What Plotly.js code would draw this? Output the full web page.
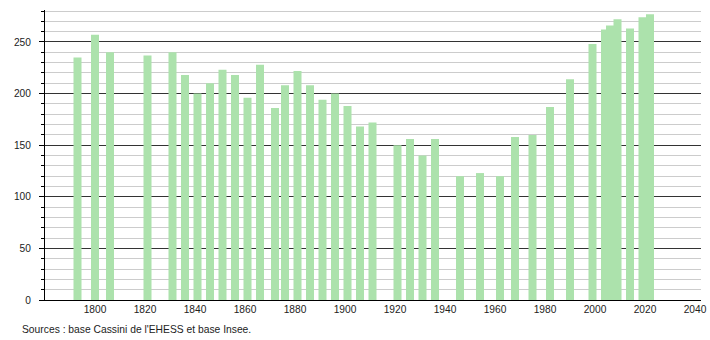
<!DOCTYPE html>
<html>
<head>
<meta charset="utf-8">
<script src="https://cdn.plot.ly/plotly-3.0.1.min.js"></script>
<style>
html, body { margin: 0; padding: 0; background: #fff; }
#chart { width: 710px; height: 340px; }
</style>
</head>
<body>
<div id="chart"></div>
<script>
const years = [1793, 1800, 1806, 1821, 1831, 1836, 1841, 1846, 1851, 1856, 1861, 1866, 1872, 1876, 1881, 1886, 1891, 1896, 1901, 1906, 1911, 1921, 1926, 1931, 1936, 1946, 1954, 1962, 1968, 1975, 1982, 1990, 1999, 2004, 2006, 2009, 2014, 2019, 2022];
const population = [235, 257, 240, 237, 240, 218, 200, 210, 223, 218, 196, 228, 186, 208, 222, 208, 194, 200, 188, 168, 172, 150, 156, 140, 156, 120, 123, 120, 158, 160, 187, 214, 248, 262, 266, 272, 263, 274, 277];
const xTickVals = [1800, 1820, 1840, 1860, 1880, 1900, 1920, 1940, 1960, 1980, 2000, 2020, 2040];
const yTickVals = [0, 50, 100, 150, 200, 250];
const sourceText = "Sources : base Cassini de l'EHESS et base Insee.";

const fontFamily = '"Liberation Sans", Arial, sans-serif';

const trace = {
  type: 'bar',
  x: years,
  y: population,
  width: 3.2,
  marker: { color: 'rgb(172,226,172)', line: { width: 0 } },
  hoverinfo: 'x+y'
};

const layout = {
  width: 710,
  height: 340,
  margin: { l: 45, r: 9, t: 10, b: 40 },
  paper_bgcolor: '#ffffff',
  plot_bgcolor: '#ffffff',
  showlegend: false,
  font: { family: fontFamily, size: 10, color: '#222' },
  xaxis: {
    range: [1780, 2042.4],
    tickmode: 'array',
    tickvals: xTickVals,
    ticktext: xTickVals.map(String),
    showgrid: false,
    zeroline: false,
    showline: true,
    linecolor: '#000',
    linewidth: 1,
    ticks: '',
    tickfont: { family: fontFamily, size: 10.2, color: '#222' }
  },
  yaxis: {
    range: [0, 281],
    tickmode: 'array',
    tickvals: yTickVals,
    showgrid: true,
    gridcolor: '#333',
    gridwidth: 1,
    zeroline: false,
    showline: true,
    linecolor: '#000',
    linewidth: 1,
    ticks: 'outside',
    ticklen: 5,
    tickcolor: '#000',
    ticklabelstandoff: 6,
    tickfont: { family: fontFamily, size: 10.2, color: '#222' },
    minor: {
      dtick: 10,
      tick0: 0,
      showgrid: true,
      gridcolor: '#cccccc',
      gridwidth: 1,
      ticks: 'outside',
      ticklen: 3,
      tickcolor: '#000'
    }
  },
  annotations: [{
    text: sourceText,
    xref: 'paper', yref: 'paper',
    x: -0.038, y: -0.1034,
    xanchor: 'left', yanchor: 'middle',
    showarrow: false,
    font: { family: fontFamily, size: 10.3, color: '#222' }
  }]
};

Plotly.newPlot('chart', [trace], layout, { displayModeBar: false, staticPlot: true });
</script>
</body>
</html>
